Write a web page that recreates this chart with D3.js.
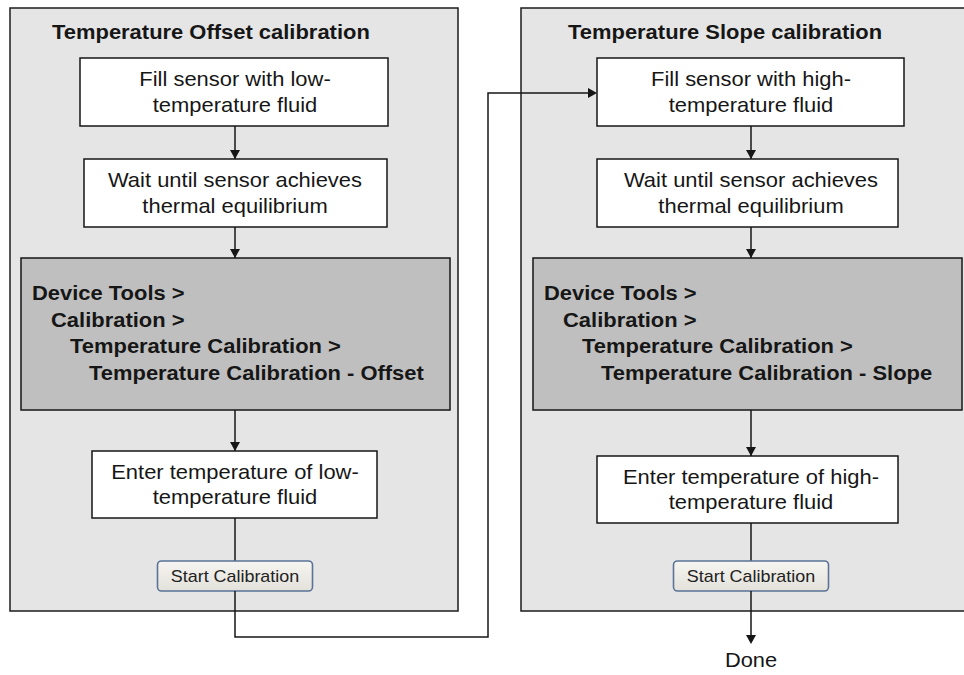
<!DOCTYPE html>
<html>
<head>
<meta charset="utf-8">
<script src="https://cdn.jsdelivr.net/npm/d3@7/dist/d3.min.js"></script>
<style>
  html, body { margin: 0; padding: 0; background: #fff; }
  svg { display: block; font-family: "Liberation Sans", Arial, sans-serif; }
</style>
</head>
<body>
<svg id="chart"></svg>
<script>
// ── Data ──────────────────────────────────────────────────────────────────────
const panelTitles = ['Temperature Offset calibration', 'Temperature Slope calibration'];
const fillSteps   = [['Fill sensor with low-', 'temperature fluid'],
                     ['Fill sensor with high-', 'temperature fluid']];
const waitSteps   = [['Wait until sensor achieves', 'thermal equilibrium'],
                     ['Wait until sensor achieves', 'thermal equilibrium']];
const menuPaths   = [['Device Tools >', 'Calibration >', 'Temperature Calibration >', 'Temperature Calibration - Offset'],
                     ['Device Tools >', 'Calibration >', 'Temperature Calibration >', 'Temperature Calibration - Slope']];
const enterSteps  = [['Enter temperature of low-', 'temperature fluid'],
                     ['Enter temperature of high-', 'temperature fluid']];
const buttonLabel = 'Start Calibration';
const endLabel    = 'Done';

// ── Layout ────────────────────────────────────────────────────────────────────
const W = 964, H = 675;
const svg = d3.select('#chart').attr('width', W).attr('height', H);

const panels = d3.range(panelTitles.length);
// column centre of each flow
const cx = d3.scaleOrdinal().domain(panels).range([235, 751]);
const panelX = d3.scaleOrdinal().domain(panels).range([[10, 458], [521, 975]]);
const PANEL_TOP = 8, PANEL_BOT = 611;

// box rows: [left, right] relative to column centre, [top, bottom]
const rows = {
  fill:  { w: [[-155, 153], [-154, 153]], y: [[58, 126], [58, 126]] },
  wait:  { w: [[-151, 152], [-154, 147]], y: [[159, 227], [159, 227]] },
  menu:  { w: [[-214, 215], [-218, 211]], y: [[258, 410], [258, 410]] },
  enter: { w: [[-143, 142], [-154, 147]], y: [[451, 518], [456, 523]] }
};
const BTN = { w: 155, y: [561, 591] };

const INK = '#161616';
const SX = 1.12;   // the source glyphs are a little wider than Arial
const FS = 19.6;

const defs = svg.append('defs');
const grad = defs.append('linearGradient').attr('id', 'btn-grad')
  .attr('x1', 0).attr('y1', 0).attr('x2', 0).attr('y2', 1);
grad.append('stop').attr('offset', '0%').attr('stop-color', '#f6f5f1');
grad.append('stop').attr('offset', '100%').attr('stop-color', '#e3e1da');

function arrowHead(g, x, y, dir) {
  // tip at (x, y)
  const s = 5, l = 9;
  const pts = dir === 'down'
    ? [[x, y], [x - s, y - l], [x + s, y - l]]
    : [[x, y], [x - l, y - s], [x - l, y + s]];
  g.append('path').attr('d', d3.line()(pts) + 'Z').attr('fill', INK);
}

function vline(g, x, y1, y2) {
  g.append('line').attr('x1', x).attr('x2', x).attr('y1', y1).attr('y2', y2)
    .attr('stroke', INK).attr('stroke-width', 1.5);
}

function box(g, i, row, fill) {
  const r = rows[row];
  const x0 = cx(i) + r.w[i][0], x1 = cx(i) + r.w[i][1];
  const [y0, y1] = r.y[i];
  g.append('rect').attr('x', x0).attr('y', y0).attr('width', x1 - x0).attr('height', y1 - y0)
    .attr('fill', fill).attr('stroke', INK).attr('stroke-width', 1.5);
  return { x0, x1, y0, y1 };
}

function wideText(sel, fx, fy) {
  return sel.attr('transform', (d, k) => `translate(${fx(d, k)},${fy(d, k)}) scale(${SX},1)`);
}

function centredText(g, i, lines, b) {
  const mid = (b.y0 + b.y1) / 2;
  wideText(g.selectAll(null).data(lines).join('text'),
    () => cx(i), (d, k) => mid + (k - (lines.length - 1) / 2) * 25.5)
    .attr('dy', '0.36em').attr('text-anchor', 'middle')
    .attr('font-size', FS).attr('fill', INK).text(d => d);
}

// ── Panels ────────────────────────────────────────────────────────────────────
const gPanels = svg.append('g');
const gFlow = svg.append('g');

panels.forEach(i => {
  const [px0, px1] = panelX(i);
  gPanels.append('rect').attr('x', px0).attr('y', PANEL_TOP)
    .attr('width', px1 - px0).attr('height', PANEL_BOT - PANEL_TOP)
    .attr('fill', '#e5e5e5').attr('stroke', '#1c1c1c').attr('stroke-width', 1.5);

  wideText(gPanels.append('text'), () => cx(i) - 183, () => 39)
    .attr('font-size', FS).attr('font-weight', 'bold').attr('fill', INK)
    .text(panelTitles[i]);

  const g = gFlow.append('g');
  const b1 = box(g, i, 'fill', '#fff');
  centredText(g, i, fillSteps[i], b1);
  const b2 = box(g, i, 'wait', '#fff');
  centredText(g, i, waitSteps[i], b2);
  const b3 = box(g, i, 'menu', '#bfbfbf');
  wideText(g.selectAll(null).data(menuPaths[i]).join('text'),
    (d, k) => b3.x0 + 11 + k * 19, (d, k) => 300 + k * 26.7)
    .attr('font-size', FS).attr('font-weight', 'bold').attr('fill', INK)
    .text(d => d);
  const b4 = box(g, i, 'enter', '#fff');
  centredText(g, i, enterSteps[i], b4);

  vline(g, cx(i), b1.y1, b2.y0); arrowHead(g, cx(i), b2.y0, 'down');
  vline(g, cx(i), b2.y1, b3.y0); arrowHead(g, cx(i), b3.y0, 'down');
  vline(g, cx(i), b3.y1, b4.y0); arrowHead(g, cx(i), b4.y0, 'down');
  vline(g, cx(i), b4.y1, BTN.y[0]);

  // button
  g.append('rect').attr('x', cx(i) - BTN.w / 2).attr('y', BTN.y[0])
    .attr('width', BTN.w).attr('height', BTN.y[1] - BTN.y[0]).attr('rx', 4)
    .attr('fill', 'url(#btn-grad)').attr('stroke', '#5a7396').attr('stroke-width', 1.6);
  wideText(g.append('text'), () => cx(i), () => (BTN.y[0] + BTN.y[1]) / 2)
    .attr('dy', '0.36em').attr('text-anchor', 'middle')
    .attr('font-size', 16).attr('fill', '#222').text(buttonLabel);
});

// ── Connectors between panels ─────────────────────────────────────────────────
const gLinks = svg.append('g');
const JOIN_X = 488, JOIN_Y = 637, ENTRY_Y = 93;
const entryX = cx(1) + rows.fill.w[1][0];
gLinks.append('path')
  .attr('d', d3.line()([[cx(0), BTN.y[1]], [cx(0), JOIN_Y], [JOIN_X, JOIN_Y], [JOIN_X, ENTRY_Y], [entryX - 8, ENTRY_Y]]))
  .attr('fill', 'none').attr('stroke', INK).attr('stroke-width', 1.5);
arrowHead(gLinks, entryX, ENTRY_Y, 'right');

vline(gLinks, cx(1), BTN.y[1], 636);
arrowHead(gLinks, cx(1), 644, 'down');
wideText(gLinks.append('text'), () => cx(1), () => 667)
  .attr('text-anchor', 'middle').attr('font-size', 19.5).attr('fill', INK).text(endLabel);
</script>
</body>
</html>
